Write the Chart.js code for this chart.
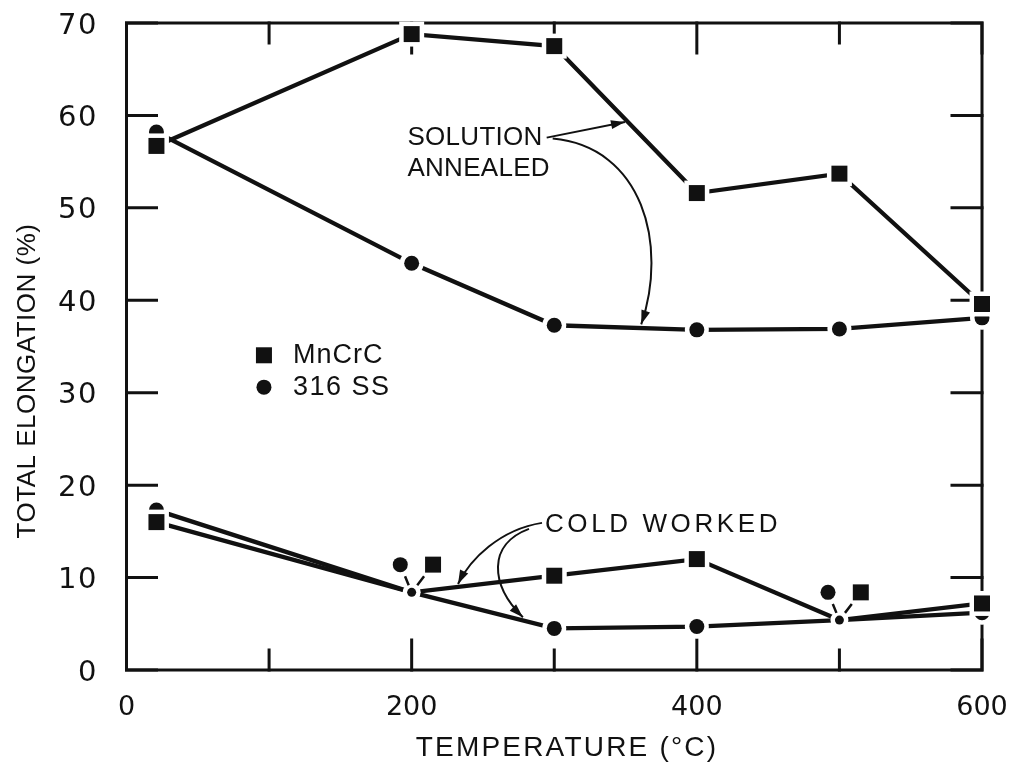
<!DOCTYPE html>
<html>
<head>
<meta charset="utf-8">
<script src="https://cdn.jsdelivr.net/npm/chart.js@4.4.1/dist/chart.umd.min.js"></script>
<style>
  html, body { margin: 0; padding: 0; background: #fff; }
  canvas { display: block; }
</style>
</head>
<body>
<canvas id="chart" width="1021" height="770"></canvas>
<script>
// Test temperatures (°C)
const temps = [21, 200, 300, 400, 500, 600];
// Total elongation (%), solution-annealed condition
const annealedMnCrC = [56.7, 68.8, 67.5, 51.6, 53.7, 39.6];
const annealed316SS = [58.2, 44.0, 37.3, 36.8, 36.9, 38.1];
// Total elongation (%), cold-worked condition
const coldMnCrC = [16.0, 8.4, 10.2, 12.0, 5.4, 7.2];
const cold316SS = [17.3, 8.4, 4.5, 4.7, 5.4, 6.2];
// Temperatures where both cold-worked alloys give the same value
const sharedTemps = [200, 500];
// Axis ticks
const xTicks = [0, 100, 200, 300, 400, 500, 600];
const xTickLabels = ['0', '', '200', '', '400', '', '600'];
const yTicks = [0, 10, 20, 30, 40, 50, 60, 70];
// Series names
const seriesNames = ['MnCrC', '316 SS'];

const INK = '#111';
const TEXT_FONT = '"Liberation Sans", Arial, sans-serif';
const NUM_FONT = '"DejaVu Sans", sans-serif';

// marker geometry (px)
const SQ_R = 11.3, CI_R = 7.5, DOT_R = 4.5, HALO = 4.5;
// where the symbol tags sit relative to a shared point (data units)
const TAG_DX_CIRCLE = -8, TAG_DX_SQUARE = 15, TAG_DY = 3;

const toPts = (xs, ys) => xs.map((x, i) => ({ x, y: ys[i] }));
const ownPts = (xs, ys) => toPts(xs, ys).filter(p => !sharedTemps.includes(p.x));
const sharedPts = ys => sharedTemps.map(t => ({ x: t, y: ys[temps.indexOf(t)] }));

const squarePts = [...toPts(temps, annealedMnCrC), ...ownPts(temps, coldMnCrC),
  ...sharedPts(coldMnCrC).map(p => ({ x: p.x + TAG_DX_SQUARE, y: p.y + TAG_DY }))];
const circlePts = [...toPts(temps, annealed316SS), ...ownPts(temps, cold316SS),
  ...sharedPts(cold316SS).map(p => ({ x: p.x + TAG_DX_CIRCLE, y: p.y + TAG_DY }))];
const dotPts = sharedPts(coldMnCrC);

const markerSet = (data, style, r, color, order) => ({
  type: 'scatter', data, order, clip: false, showLine: false,
  pointStyle: style, pointRadius: r, pointHoverRadius: r,
  pointBackgroundColor: color, pointBorderWidth: 0, pointBorderColor: color
});
const lineSet = (data) => ({
  type: 'scatter', data, order: 10, clip: false, showLine: true,
  borderColor: INK, borderWidth: 4.3, pointRadius: 0, pointHoverRadius: 0, tension: 0
});

const datasets = [
  markerSet(squarePts, 'rect', SQ_R, INK, 1),
  markerSet(squarePts, 'rect', SQ_R + HALO * 1.414, '#fff', 2),
  markerSet(circlePts, 'circle', CI_R, INK, 3),
  markerSet(circlePts, 'circle', CI_R + HALO, '#fff', 4),
  markerSet(dotPts, 'circle', DOT_R, INK, 5),
  markerSet(dotPts, 'circle', DOT_R + HALO, '#fff', 6),
  lineSet(toPts(temps, annealedMnCrC)),
  lineSet(toPts(temps, annealed316SS)),
  lineSet(toPts(temps, coldMnCrC)),
  lineSet(toPts(temps, cold316SS))
];

// Plot frame, inward tick marks on all four sides, and tick labels
const framePlugin = {
  id: 'frame',
  beforeDatasetsDraw(chart) {
    const { ctx, chartArea: a, scales: { x, y } } = chart;
    ctx.save();
    ctx.strokeStyle = INK;
    ctx.fillStyle = INK;
    ctx.lineWidth = 3;
    ctx.lineCap = 'square';
    ctx.strokeRect(a.left, a.top, a.right - a.left, a.bottom - a.top);
    ctx.beginPath();
    xTicks.forEach(v => {
      const px = x.getPixelForValue(v);
      const len = v % 200 === 0 ? 30 : 20;
      ctx.moveTo(px, a.bottom); ctx.lineTo(px, a.bottom - len);
      ctx.moveTo(px, a.top); ctx.lineTo(px, a.top + len);
    });
    yTicks.forEach(v => {
      const py = y.getPixelForValue(v);
      ctx.moveTo(a.left, py); ctx.lineTo(a.left + 30, py);
      ctx.moveTo(a.right, py); ctx.lineTo(a.right - 30, py);
    });
    ctx.stroke();

    ctx.textBaseline = 'middle';
    ctx.font = `27px ${NUM_FONT}`;
    ctx.textAlign = 'center';
    xTicks.forEach((v, i) => {
      if (xTickLabels[i]) ctx.fillText(xTickLabels[i], x.getPixelForValue(v), a.bottom + 38);
    });
    ctx.font = `29px ${NUM_FONT}`;
    ctx.letterSpacing = '1.5px';
    ctx.textAlign = 'right';
    yTicks.forEach(v => ctx.fillText(String(v), a.left - 28.5, y.getPixelForValue(v) + 3));
    ctx.restore();
  }
};

// Labels, arrows, legend and axis titles
const notesPlugin = {
  id: 'notes',
  afterDatasetsDraw(chart) {
    const { ctx, scales: { x, y } } = chart;
    const P = (dx, dy) => [x.getPixelForValue(dx), y.getPixelForValue(dy)];
    ctx.save();
    ctx.fillStyle = INK;
    ctx.strokeStyle = INK;

    // short leader dashes from the symbol tags to the shared points
    ctx.lineWidth = 2.5;
    ctx.beginPath();
    sharedTemps.forEach(t => {
      const v = coldMnCrC[temps.indexOf(t)];
      const [dx, dy] = P(t, v);
      [TAG_DX_CIRCLE, TAG_DX_SQUARE].forEach(off => {
        const [tx, ty] = P(t + off, v + TAG_DY);
        ctx.moveTo(tx + (dx - tx) * 0.42, ty + (dy - ty) * 0.42);
        ctx.lineTo(tx + (dx - tx) * 0.74, ty + (dy - ty) * 0.74);
      });
    });
    ctx.stroke();

    const text = (str, dx, dy, size, spacing) => {
      ctx.font = `${size}px ${TEXT_FONT}`;
      ctx.letterSpacing = (spacing || 0) + 'px';
      ctx.textAlign = 'left';
      ctx.textBaseline = 'middle';
      const [px, py] = P(dx, dy);
      ctx.fillText(str, px, py);
      const w = ctx.measureText(str).width;
      ctx.letterSpacing = '0px';
      return [px, py, w];
    };

    const head = (x0, y0, x1, y1) => {
      const ang = Math.atan2(y1 - y0, x1 - x0);
      const L = 14, W = 4.5;
      ctx.beginPath();
      ctx.moveTo(x1, y1);
      ctx.lineTo(x1 - L * Math.cos(ang) + W * Math.sin(ang), y1 - L * Math.sin(ang) - W * Math.cos(ang));
      ctx.lineTo(x1 - L * Math.cos(ang) - W * Math.sin(ang), y1 - L * Math.sin(ang) + W * Math.cos(ang));
      ctx.closePath();
      ctx.fill();
    };
    const curveArrow = (s, c1, c2, e) => {
      ctx.beginPath();
      ctx.moveTo(...s);
      ctx.bezierCurveTo(...c1, ...c2, ...e);
      ctx.stroke();
      head(...c2, ...e);
    };

    // solution annealed note
    const [sx, sy, sw] = text('SOLUTION', 197, 57.6, 26, 0.3);
    text('ANNEALED', 197, 54.2, 26, 0.3);
    ctx.lineWidth = 2;
    const s0 = [sx + sw + 4, sy];
    const tip1 = P(349.6, 59.3);
    ctx.beginPath(); ctx.moveTo(...s0); ctx.lineTo(...tip1); ctx.stroke();
    head(...s0, ...tip1);
    curveArrow([sx + sw + 10, sy + 1], P(362, 56.6), P(380, 46), P(361, 37.4));

    // cold worked note
    const [cx, cy] = text('COLD WORKED', 293.5, 15.7, 26, 3.6);
    curveArrow([cx - 3, cy - 2], P(262, 15.2), P(241, 12.0), P(232.5, 9.3));
    curveArrow([cx - 16, cy + 4], P(253, 13.6), P(255, 9.2), P(278, 5.7));

    // legend
    const [lx, ly1] = P(96.4, 34.05);
    const [, ly2] = P(96.4, 30.6);
    ctx.fillRect(lx - 8, ly1 - 8, 16, 16);
    ctx.beginPath(); ctx.arc(lx, ly2, 7.5, 0, Math.PI * 2); ctx.fill();
    text(seriesNames[0], 116.8, 34.05, 27, 1);
    text(seriesNames[1], 116.8, 30.6, 27, 1.5);

    // axis titles
    ctx.font = `26px ${TEXT_FONT}`;
    ctx.textAlign = 'center';
    ctx.textBaseline = 'middle';
    ctx.save();
    ctx.translate(28, 381);
    ctx.rotate(-Math.PI / 2);
    ctx.letterSpacing = '0.5px';
    ctx.fillText('TOTAL ELONGATION (%)', 0, 0);
    ctx.restore();
    ctx.font = `28px ${TEXT_FONT}`;
    ctx.letterSpacing = '2.2px';
    ctx.fillText('TEMPERATURE (°C)', 567, 748);
    ctx.restore();
  }
};

new Chart(document.getElementById('chart'), {
  type: 'scatter',
  data: { datasets },
  options: {
    responsive: false,
    animation: false,
    devicePixelRatio: 1,
    layout: { padding: { top: 23, right: 39, bottom: 100, left: 126.5 } },
    plugins: { legend: { display: false }, tooltip: { enabled: false } },
    scales: {
      x: { type: 'linear', min: 0, max: 600, display: false },
      y: { type: 'linear', min: 0, max: 70, display: false }
    }
  },
  plugins: [framePlugin, notesPlugin]
});
</script>
</body>
</html>
